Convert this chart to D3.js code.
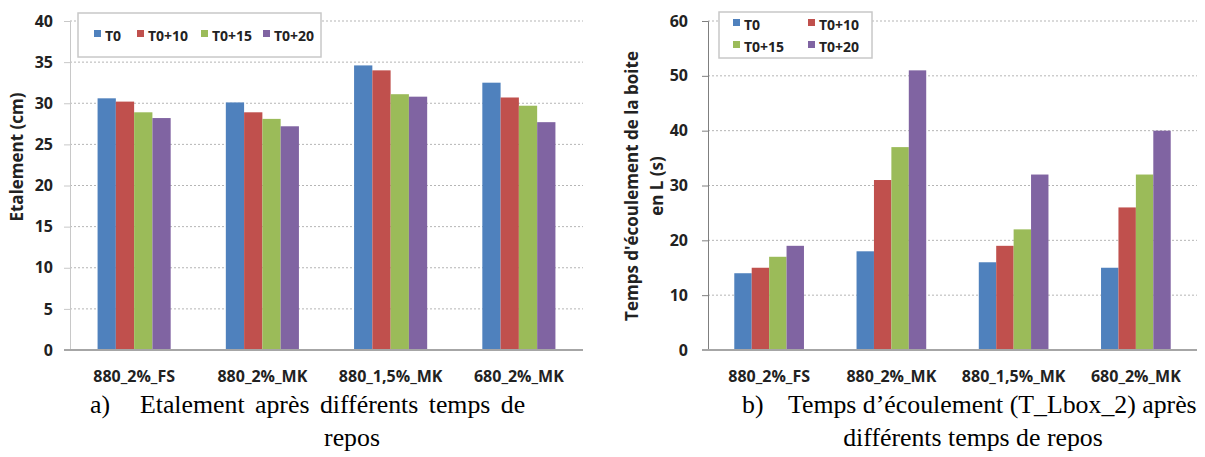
<!DOCTYPE html>
<html>
<head>
<meta charset="utf-8">
<script src="https://d3js.org/d3.v7.min.js"></script>
<style>
  body { margin: 0; background: #fff; }
  svg { display: block; }
</style>
</head>
<body>
<svg id="chart" width="1205" height="457"></svg>
<script>
// categories and series
var categories = ["880_2%_FS", "880_2%_MK", "880_1,5%_MK", "680_2%_MK"];
var series = ["T0", "T0+10", "T0+15", "T0+20"];
var colors = ["#4f81bd", "#c0504d", "#9bbb59", "#8064a2"];

// chart a) etalement (cm), one row per category, one value per series
var etalement = [
  [30.6, 30.2, 28.9, 28.2],
  [30.1, 28.9, 28.1, 27.2],
  [34.6, 34.0, 31.1, 30.8],
  [32.5, 30.7, 29.7, 27.7]
];
var etalementTicks = [0, 5, 10, 15, 20, 25, 30, 35, 40];

// chart b) temps d'ecoulement (s)
var tempsEcoulement = [
  [14, 15, 17, 19],
  [18, 31, 37, 51],
  [16, 19, 22, 32],
  [15, 26, 32, 40]
];
var tempsTicks = [0, 10, 20, 30, 40, 50, 60];

var svg = d3.select("#chart");
svg.append("rect").attr("width", 1205).attr("height", 457).attr("fill", "#fff");

var sansFont = "'Open Sans', 'DejaVu Sans', sans-serif";
var serifFont = "'Liberation Serif', 'DejaVu Serif', serif";

function drawChart(opt) {
  var g = svg.append("g");
  var y = d3.scaleLinear().domain([0, opt.max]).range([350, 21]);
  var x0 = d3.scaleBand().domain(categories).range([opt.left, opt.right])
              .paddingInner(0.43).paddingOuter(0.215);
  var x1 = d3.scaleBand().domain(series).range([0, x0.bandwidth()]);

  // gridlines
  g.selectAll("line.grid").data(opt.ticks.filter(d => d > 0)).enter()
    .append("line").attr("class", "grid")
    .attr("x1", opt.left).attr("x2", opt.right)
    .attr("y1", d => y(d)).attr("y2", d => y(d))
    .attr("stroke", "#b5b5b5").attr("stroke-width", 1)
    .attr("stroke-dasharray", "2,2");

  // y axis
  var yAxis = d3.axisLeft(y).tickValues(opt.ticks).tickSize(6).tickPadding(opt.pad);
  var ya = g.append("g").attr("transform", "translate(" + opt.left + ",0)").call(yAxis);
  ya.select(".domain").attr("stroke", opt.axisColor);
  ya.selectAll(".tick line").attr("stroke", opt.axisColor);
  ya.selectAll(".tick text").attr("font-family", sansFont).attr("font-weight", "bold")
    .attr("font-size", 16).attr("fill", "#222");

  // bars
  var groups = g.selectAll("g.cat").data(opt.values).enter().append("g")
    .attr("transform", (d, i) => "translate(" + x0(categories[i]) + ",0)");
  groups.selectAll("rect").data(d => d).enter().append("rect")
    .attr("x", (d, i) => x1(series[i]))
    .attr("width", x1.bandwidth())
    .attr("y", d => y(d))
    .attr("height", d => y(0) - y(d))
    .attr("fill", (d, i) => colors[i]);

  // x axis baseline
  var xAxis = d3.axisBottom(x0).tickSize(0).tickPadding(21);
  var xa = g.append("g").attr("transform", "translate(0,350)").call(xAxis);
  xa.select(".domain").attr("d", "M" + (opt.left - 6) + ",0H" + opt.right)
    .attr("stroke", "#a6a6a6").attr("stroke-width", 2);
  xa.selectAll(".tick text").attr("font-family", sansFont).attr("font-weight", "bold")
    .attr("font-size", 16).attr("fill", "#222");

  // legend
  var lg = g.append("g");
  lg.append("rect").attr("x", opt.legend.x).attr("y", opt.legend.y)
    .attr("width", opt.legend.w).attr("height", opt.legend.h)
    .attr("fill", "#fff").attr("stroke", "#c8c8c8").attr("stroke-width", 1.5);
  var items = lg.selectAll("g.item").data(series).enter().append("g")
    .attr("transform", (d, i) => "translate(" + opt.legend.pos[i][0] + "," + opt.legend.pos[i][1] + ")");
  items.append("rect").attr("x", 0).attr("y", -6).attr("width", 7).attr("height", 7)
    .attr("fill", (d, i) => colors[i]);
  items.append("text").attr("x", 11).attr("y", 0).attr("dy", "0.35em")
    .attr("font-family", sansFont).attr("font-weight", "bold").attr("font-size", 14)
    .attr("fill", "#222").text(d => d);

  // y title
  var yt = g.append("text")
    .attr("transform", "translate(" + opt.title.x + "," + opt.title.y + ") rotate(-90)")
    .attr("text-anchor", "middle")
    .attr("font-family", sansFont).attr("font-weight", "bold").attr("font-size", 17)
    .attr("fill", "#222");
  opt.title.lines.forEach(function (t, i) {
    yt.append("tspan").attr("x", 0).attr("dy", i === 0 ? 0 : 25).text(t);
  });

  // caption
  opt.caption.forEach(function (c) {
    var t = svg.append("text").attr("x", c.x).attr("y", c.y)
      .attr("font-family", serifFont).attr("font-size", 25.8).attr("fill", "#000")
      .attr("word-spacing", c.ws || 0)
      .attr("text-anchor", c.anchor || "start");
    t.text(c.text);
  });
}

drawChart({
  values: etalement, max: 40, ticks: etalementTicks,
  left: 70, right: 583, pad: 11, axisColor: "#c8c8c8",
  legend: { x: 78, y: 13, w: 243, h: 44,
            pos: [[94, 36], [137, 36], [201, 36], [263, 36]] },
  title: { x: 23, y: 157, lines: ["Etalement (cm)"] },
  caption: [
    { x: 90, y: 413, text: "a)" },
    { x: 140, y: 413, text: "Etalement après différents temps de", ws: 4 },
    { x: 352, y: 446, text: "repos", anchor: "middle" }
  ]
});

drawChart({
  values: tempsEcoulement, max: 60, ticks: tempsTicks,
  left: 708, right: 1197, pad: 14, axisColor: "#7f7f7f",
  legend: { x: 719, y: 12, w: 153, h: 46,
            pos: [[733, 25], [808, 25], [733, 47], [808, 47]] },
  title: { x: 638, y: 186, lines: ["Temps d'écoulement de la boite", "en L (s)"] },
  caption: [
    { x: 742, y: 413, text: "b)" },
    { x: 788, y: 413, text: "Temps d’écoulement (T_Lbox_2) après" },
    { x: 973, y: 446, text: "différents temps de repos", anchor: "middle" }
  ]
});
</script>
</body>
</html>
